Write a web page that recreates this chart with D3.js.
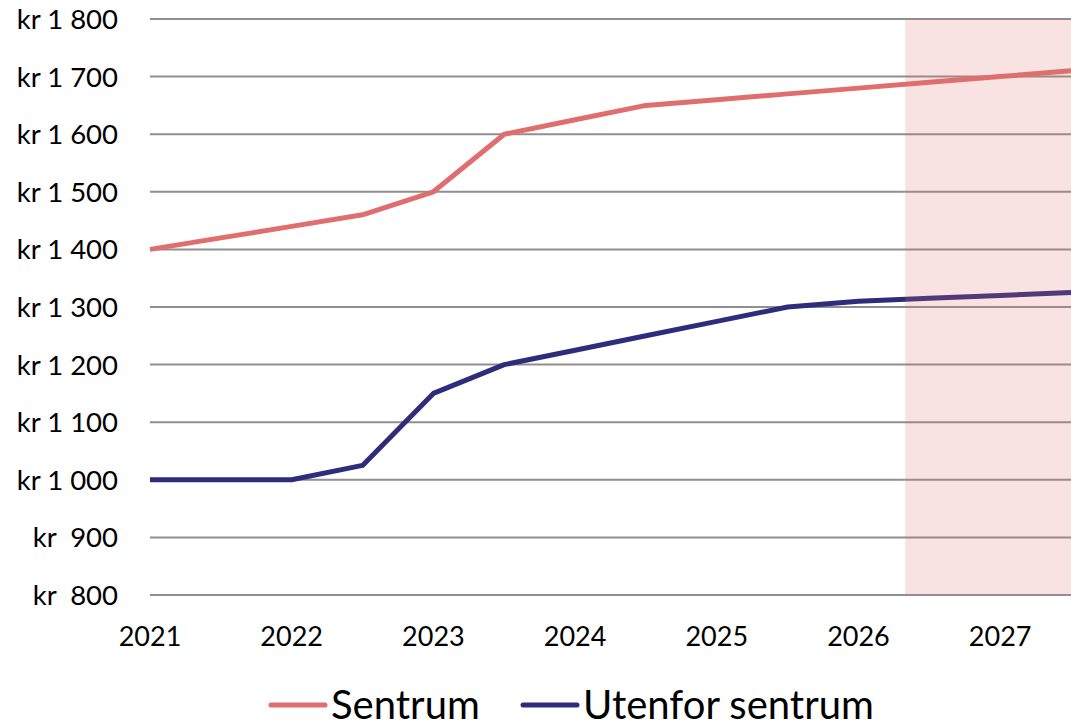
<!DOCTYPE html>
<html>
<head>
<meta charset="utf-8">
<script src="https://cdn.jsdelivr.net/npm/d3@7"></script>
<style>
  body { margin: 0; background: #fff; }
  svg { display: block; font-family: Lato, "Open Sans", sans-serif; }
</style>
</head>
<body>
<svg id="chart"></svg>
<script>
'use strict'

// x positions in years (half-year steps)
const years = [2021, 2021.5, 2022, 2022.5, 2023, 2023.5, 2024, 2024.5, 2025, 2025.5, 2026, 2026.5, 2027, 2027.5]
const sentrum = [1400, 1420, 1440, 1460, 1500, 1600, 1625, 1650, 1660, 1670, 1680, 1690, 1700, 1710]
const utenfor = [1000, 1000, 1000, 1025, 1150, 1200, 1225, 1250, 1275, 1300, 1310, 1315, 1320, 1325]
const yearTicks = [2021, 2022, 2023, 2024, 2025, 2026, 2027]
const yTicks = [800, 900, 1000, 1100, 1200, 1300, 1400, 1500, 1600, 1700, 1800]
const yTickLabels = ['kr\u00a0\u00a0800', 'kr\u00a0\u00a0900', 'kr 1 000', 'kr 1 100', 'kr 1 200', 'kr 1 300',
  'kr 1 400', 'kr 1 500', 'kr 1 600', 'kr 1 700', 'kr 1 800']
const shadeStart = 2026.33
const seriesNames = ['Sentrum', 'Utenfor sentrum']
const colors = ['#e06e6e', '#2e2d7b']

const width = 1071, height = 723
const svg = d3.select('#chart').attr('width', width).attr('height', height)

const x = d3.scaleLinear().domain([2021, 2027.5]).range([150, 1071])
const y = d3.scaleLinear().domain([800, 1800]).range([595, 19])

// gridlines
svg.append('g').selectAll('line')
  .data(yTicks)
  .enter().append('line')
    .attr('x1', x(2021)).attr('x2', x(2027.5))
    .attr('y1', d => y(d)).attr('y2', d => y(d))
    .attr('stroke', '#8f8f8f')
    .attr('stroke-width', 2)

// y labels
svg.append('g').selectAll('text')
  .data(yTicks)
  .enter().append('text')
    .attr('x', 118)
    .attr('y', d => y(d))
    .attr('dy', '0.36em')
    .attr('text-anchor', 'end')
    .attr('font-size', 27.5)
    .attr('fill', '#000')
    .text((d, i) => yTickLabels[i])

// x labels
svg.append('g').selectAll('text')
  .data(yearTicks)
  .enter().append('text')
    .attr('x', d => x(d))
    .attr('y', 646)
    .attr('text-anchor', 'middle')
    .attr('font-size', 27)
    .attr('fill', '#000')
    .text(d => d)

// lines
const line = d3.line().x((d, i) => x(years[i])).y(d => y(d))
;[sentrum, utenfor].forEach((s, k) => {
  svg.append('path')
    .datum(s)
    .attr('d', line)
    .attr('fill', 'none')
    .attr('stroke', colors[k])
    .attr('stroke-width', 5)
    .attr('stroke-linejoin', 'round')
})

// forecast shading on top
svg.append('rect')
  .attr('x', x(shadeStart))
  .attr('y', y(1800))
  .attr('width', x(2027.5) - x(shadeStart))
  .attr('height', y(800) - y(1800))
  .attr('fill', 'rgb(220,110,110)')
  .attr('fill-opacity', 0.2)

// legend
const legend = svg.append('g')
const legendX = [271, 523]
seriesNames.forEach((name, k) => {
  legend.append('line')
    .attr('x1', legendX[k]).attr('x2', legendX[k] + 54)
    .attr('y1', 705).attr('y2', 705)
    .attr('stroke', colors[k])
    .attr('stroke-width', 5)
    .attr('stroke-linecap', 'round')
  legend.append('text')
    .attr('x', legendX[k] + 60)
    .attr('y', 719)
    .attr('font-size', 40)
    .attr('fill', '#000')
    .text(name)
})
</script>
</body>
</html>
